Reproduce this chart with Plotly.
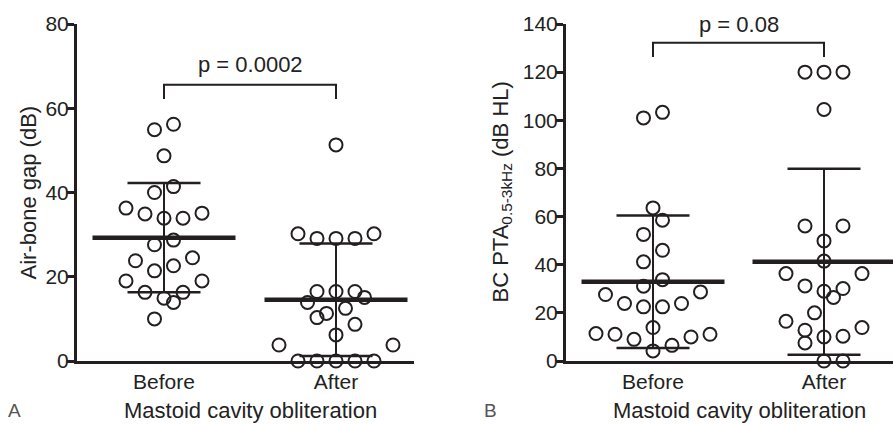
import numpy as np
import plotly.graph_objects as go

# ---------------- data ----------------
categories = ["Before", "After"]

abg_before = [56.2, 54.9, 48.7, 41.4, 40.0, 36.3, 34.9, 33.9, 33.9, 35.1, 28.7, 27.6,
              23.8, 24.5, 21.4, 22.6, 19.0, 19.0, 16.3, 16.3, 14.9, 13.9, 10.0]
abg_after = [51.3, 30.2, 29.1, 29.1, 29.1, 30.2, 16.5, 16.5, 16.5, 15.1, 13.9, 12.5,
             11.3, 10.3, 8.7, 6.2, 3.8, 3.8, 0, 0, 0, 0, 0]

bc_before = [103.3, 101.0, 63.6, 58.5, 52.6, 46.0, 41.2, 33.8, 31.1, 27.6, 28.7, 23.9,
             22.5, 22.5, 23.9, 13.9, 11.1, 11.1, 9.0, 6.5, 10.0, 4.2, 11.4]
bc_after = [120, 120, 120, 104.5, 56.1, 56.1, 49.9, 41.5, 36.3, 36.3, 30.1, 31.2,
            29.0, 26.4, 20.0, 13.9, 16.5, 10.0, 7.5, 10.3, 12.8, 0, 0]

left_ticks = [0, 20, 40, 60, 80]
right_ticks = [0, 20, 40, 60, 80, 100, 120, 140]
p_left = "p = 0.0002"
p_right = "p = 0.08"
left_title = "Air-bone gap (dB)"
right_title = "BC PTA<sub>0.5-3kHz</sub> (dB HL)"

# ---------------- layout constants (pixels) ----------------
W, H = 893, 424
Y_TOP, Y_BOT = 24, 361            # pixel rows of top / zero of y axes
L_X0, L_X1, L_C0, L_PX = 77, 414, 164, 172   # left panel: axis start/end, Before centre, px per category
R_X0, R_X1, R_C0, R_PX = 566, 893, 653, 171
STEP = 19.0      # horizontal spacing between dots (px)
BIN = 19.0       # vertical bin height for swarm grouping (px)
MEAN_HALF = 71.5
CAP_HALF = 36.5
INK = "#231f20"
TXT = "#222"
FONT = "Liberation Sans, Arial, Helvetica, sans-serif"


def swarm(values, px_per_unit, px_per_cat):
    """Prism-like binned scatter: groups close values, spreads them horizontally."""
    vals = np.asarray(values, float)
    order = np.argsort(vals, kind="stable")
    offs = np.zeros(len(vals))
    thr = BIN / px_per_unit
    i = 0
    while i < len(order):
        start = vals[order[i]]
        grp = [order[i]]
        j = i + 1
        while j < len(order) and vals[order[j]] <= start + thr:
            grp.append(order[j])
            j += 1
        n = len(grp)
        if n % 2:
            slots = [0.0]
            for k in range(1, (n - 1) // 2 + 1):
                slots += [k, -k]
        else:
            slots = []
            for k in range(n // 2):
                slots += [-(k + 0.5), k + 0.5]
        for idx, s in zip(grp, slots):
            offs[idx] = s * STEP / px_per_cat
        i = j
    return offs


fig = go.Figure()

panels = [
    dict(data=[abg_before, abg_after], xa="x", ya="y", ymax=80, ppc=L_PX),
    dict(data=[bc_before, bc_after], xa="x2", ya="y2", ymax=140, ppc=R_PX),
]

for p in panels:
    ppu = (Y_BOT - Y_TOP) / p["ymax"]
    for ci, vals in enumerate(p["data"]):
        offs = swarm(vals, ppu, p["ppc"])
        fig.add_trace(go.Scatter(
            x=ci + offs, y=vals, mode="markers", xaxis=p["xa"], yaxis=p["ya"],
            marker=dict(symbol="circle-open", size=13, color=INK, line=dict(width=2, color=INK)),
            cliponaxis=False, showlegend=False, hoverinfo="y"))
        m = float(np.mean(vals))
        sd = float(np.std(vals, ddof=1))
        mh = MEAN_HALF / p["ppc"]
        ch = CAP_HALF / p["ppc"]
        # SD vertical
        fig.add_trace(go.Scatter(x=[ci, ci], y=[max(m - sd, 0), m + sd], mode="lines",
                                 xaxis=p["xa"], yaxis=p["ya"], line=dict(color=INK, width=2),
                                 showlegend=False, hoverinfo="skip", cliponaxis=False))
        for yy in (m - sd, m + sd):
            fig.add_trace(go.Scatter(x=[ci - ch, ci + ch], y=[yy, yy], mode="lines",
                                     xaxis=p["xa"], yaxis=p["ya"], line=dict(color=INK, width=2.5),
                                     showlegend=False, hoverinfo="skip", cliponaxis=False))
        fig.add_trace(go.Scatter(x=[ci - mh, ci + mh], y=[m, m], mode="lines",
                                 xaxis=p["xa"], yaxis=p["ya"], line=dict(color=INK, width=4.5),
                                 showlegend=False, hoverinfo="skip", cliponaxis=False))

ydom = [(H - Y_BOT) / H, (H - Y_TOP) / H]
axis_common = dict(showline=True, linecolor=INK, linewidth=3, showgrid=False, zeroline=False,
                   automargin=False, tickfont=dict(family=FONT, size=21, color=TXT))

fig.update_layout(
    width=W, height=H, margin=dict(l=0, r=0, t=0, b=0),
    plot_bgcolor="white", paper_bgcolor="white",
    xaxis=dict(domain=[L_X0 / W, L_X1 / W], range=[(L_X0 - L_C0) / L_PX, (L_X1 - L_C0) / L_PX],
               tickvals=[0, 1], ticktext=categories, ticks="", anchor="y", **axis_common),
    yaxis=dict(domain=ydom, range=[0, 80], tickvals=left_ticks, ticks="outside", ticklen=7,
               tickwidth=2.5, tickcolor=INK, anchor="x", ticklabelstandoff=-6, **axis_common),
    xaxis2=dict(domain=[R_X0 / W, R_X1 / W], range=[(R_X0 - R_C0) / R_PX, (R_X1 - R_C0) / R_PX],
                tickvals=[0, 1], ticktext=categories, ticks="", anchor="y2", **axis_common),
    yaxis2=dict(domain=ydom, range=[0, 140], tickvals=right_ticks, ticks="outside", ticklen=7,
                tickwidth=2.5, tickcolor=INK, anchor="x2", ticklabelstandoff=-6, **axis_common),
)

# y-axis titles
ymid = 1 - ((Y_TOP + Y_BOT) / 2) / H
for xc, txt in [(28, left_title), (501, right_title)]:
    fig.add_annotation(x=xc / W, y=ymid, xref="paper", yref="paper", text=txt, textangle=-90,
                       showarrow=False, font=dict(family=FONT, size=22, color=TXT),
                       xanchor="center", yanchor="middle")

# significance brackets
for xa, ya, ytop, ybot, txt, ytxt in [("x", "y", 65.6, 62.2, p_left, 70.3),
                                       ("x2", "y2", 132.2, 126.3, p_right, 139.6)]:
    fig.add_shape(type="path", xref=xa, yref=ya,
                  path=f"M 0 {ybot} L 0 {ytop} L 1 {ytop} L 1 {ybot}",
                  line=dict(color=INK, width=2))
    fig.add_annotation(x=0.5, y=ytxt, xref=xa, yref=ya, text=txt, showarrow=False,
                       font=dict(family=FONT, size=22, color=TXT), yanchor="middle")

# x-axis titles and panel letters
for xc, letter, lx in [(251, "A", 14), (739, "B", 490)]:
    fig.add_annotation(x=xc / W, y=1 - 410 / H, xref="paper", yref="paper",
                       text="Mastoid cavity obliteration", showarrow=False,
                       font=dict(family=FONT, size=22, color=TXT), yanchor="middle", xanchor="center")
    fig.add_annotation(x=lx / W, y=1 - 410 / H, xref="paper", yref="paper", text=letter,
                       showarrow=False, font=dict(family=FONT, size=19, color="#555"),
                       yanchor="middle", xanchor="center")

fig.write_html("out.html", config={"displayModeBar": False},
               post_script="document.body.style.margin='0';document.body.style.overflow='hidden';")
